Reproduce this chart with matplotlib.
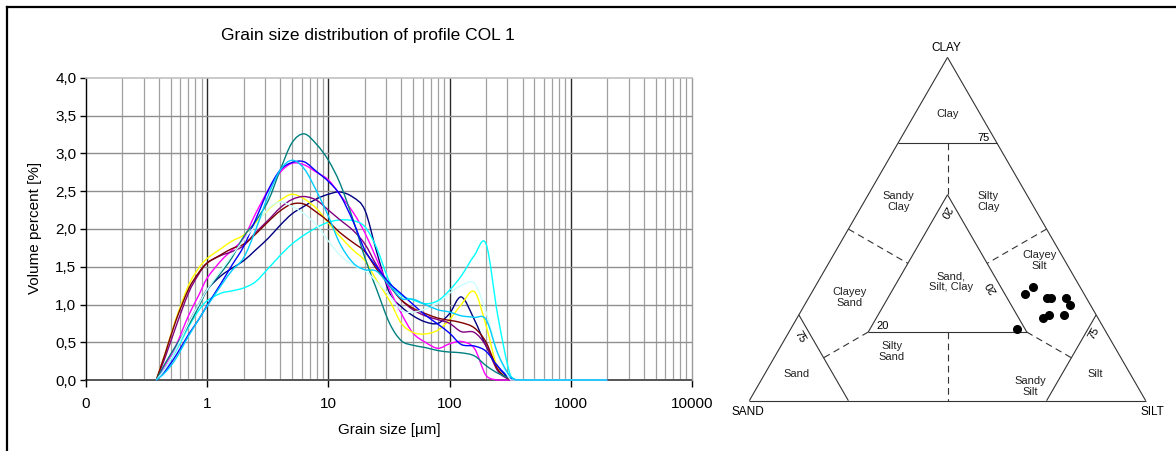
import numpy as np
import matplotlib
matplotlib.use('Agg')
import matplotlib.pyplot as plt
from matplotlib.lines import Line2D
from matplotlib.path import Path
from matplotlib.patches import PathPatch
from matplotlib.ticker import FixedLocator, FixedFormatter, NullFormatter

plt.rcParams['font.family'] = ['Liberation Sans', 'DejaVu Sans']

# ---------------- data ----------------
grain_size_um = [0.38, 0.45, 0.55, 0.7, 0.85, 1.0, 1.3, 1.6, 2.0, 2.5, 3.2, 4.0, 5.0, 6.3, 8.0,
                 10, 12.5, 16, 20, 25, 32, 40, 50, 63, 80, 100, 125, 160, 200, 250, 320, 400, 2000]

navy = [0, 0.15, 0.40, 0.75, 1.00, 1.20, 1.38, 1.48, 1.58, 1.72, 1.88, 2.05, 2.20, 2.30, 2.40,
        2.46, 2.49, 2.42, 2.25, 1.70, 1.15, 0.97, 0.85, 0.77, 0.75, 0.88, 1.10, 0.80, 0.45, 0.18, 0.01, 0, 0]
magenta = [0, 0.20, 0.45, 0.85, 1.12, 1.35, 1.58, 1.72, 1.88, 2.20, 2.52, 2.75, 2.87, 2.85, 2.75,
           2.65, 2.45, 2.22, 1.95, 1.60, 1.20, 0.88, 0.62, 0.50, 0.42, 0.48, 0.51, 0.42, 0.06, 0, 0, 0, 0]
yellow = [0, 0.35, 0.80, 1.25, 1.48, 1.61, 1.74, 1.84, 1.92, 2.08, 2.26, 2.38, 2.46, 2.40, 2.27,
          2.08, 1.90, 1.72, 1.58, 1.32, 1.05, 0.75, 0.63, 0.61, 0.66, 0.80, 1.00, 1.17, 0.72, 0.15, 0.01, 0, 0]
cyan = [0, 0.15, 0.38, 0.70, 0.92, 1.05, 1.15, 1.18, 1.22, 1.30, 1.48, 1.65, 1.80, 1.92, 2.02,
        2.09, 2.12, 2.11, 2.03, 1.75, 1.30, 1.12, 1.06, 1.01, 1.05, 1.19, 1.38, 1.65, 1.80, 0.85, 0.05, 0, 0]
purple = [0, 0.30, 0.70, 1.15, 1.40, 1.55, 1.65, 1.70, 1.78, 1.95, 2.12, 2.28, 2.39, 2.43, 2.38,
          2.25, 2.12, 1.98, 1.80, 1.52, 1.25, 1.06, 0.93, 0.85, 0.80, 0.75, 0.64, 0.63, 0.45, 0.12, 0, 0, 0]
darkred = [0, 0.35, 0.78, 1.20, 1.42, 1.55, 1.66, 1.74, 1.80, 1.93, 2.10, 2.24, 2.33, 2.33, 2.22,
           2.10, 1.95, 1.82, 1.70, 1.47, 1.25, 1.06, 0.95, 0.88, 0.82, 0.79, 0.76, 0.69, 0.50, 0.14, 0.01, 0, 0]
teal = [0, 0.22, 0.45, 0.72, 0.97, 1.19, 1.42, 1.62, 1.90, 2.10, 2.38, 2.78, 3.14, 3.26, 3.12,
        2.91, 2.60, 2.12, 1.62, 1.20, 0.75, 0.52, 0.46, 0.43, 0.39, 0.37, 0.36, 0.32, 0.19, 0.09, 0.02, 0, 0]
blue = [0, 0.12, 0.32, 0.60, 0.80, 0.99, 1.28, 1.52, 1.77, 2.12, 2.52, 2.78, 2.88, 2.89, 2.76,
        2.63, 2.45, 2.10, 1.72, 1.50, 1.28, 1.14, 1.00, 0.86, 0.74, 0.62, 0.47, 0.45, 0.38, 0.18, 0.02, 0, 0]
lightturq = [0, 0.15, 0.40, 0.75, 1.00, 1.20, 1.45, 1.65, 1.85, 2.05, 2.27, 2.36, 2.30, 2.20, 2.05,
             1.84, 1.65, 1.52, 1.45, 1.30, 1.12, 0.92, 0.90, 0.94, 1.02, 1.15, 1.25, 1.28, 0.90, 0.35, 0, 0, 0]
skyblue = [0, 0.10, 0.28, 0.58, 0.80, 0.98, 1.25, 1.45, 1.62, 1.98, 2.45, 2.78, 2.91, 2.80, 2.50,
           2.17, 1.80, 1.55, 1.46, 1.44, 1.25, 1.08, 1.07, 1.00, 0.93, 0.90, 0.85, 0.83, 0.80, 0.35, 0.04, 0, 0]

series = [navy, magenta, yellow, cyan, purple, darkred, teal, blue, lightturq, skyblue]
series_colors = ['#000080', '#FF00FF', '#FFFF00', '#00FFFF', '#800080', '#800000',
                 '#008080', '#0000FF', '#CCFFFF', '#00CCFF']

x_ticks = [0.1, 1, 10, 100, 1000, 10000]
x_tick_labels = ['0', '1', '10', '100', '1000', '10000']
y_ticks = [0.0, 0.5, 1.0, 1.5, 2.0, 2.5, 3.0, 3.5, 4.0]
y_tick_labels = ['0,0', '0,5', '1,0', '1,5', '2,0', '2,5', '3,0', '3,5', '4,0']

# ternary samples (percent)
sand_pct = [15, 12, 10, 9, 5, 5, 14, 12, 8, 22]
silt_pct = [54, 55, 60, 61, 65, 67, 62, 63, 67, 57]
clay_pct = [31, 33, 30, 30, 30, 28, 24, 25, 25, 21]

# ---------------- figure ----------------
W, H = 1176, 451
fig = plt.figure(figsize=(W / 100, H / 100), dpi=100)
fig.patch.set_facecolor('white')

# frame border (top and left)
fig.add_artist(Line2D([7 / W, 7 / W], [0, 1 - 7 / H], transform=fig.transFigure, color='black', lw=1.6))
fig.add_artist(Line2D([7 / W, 1], [1 - 7 / H, 1 - 7 / H], transform=fig.transFigure, color='black', lw=1.6))

# ---------------- left chart ----------------
ax = fig.add_axes([86 / W, (H - 380) / H, (692 - 86) / W, (380 - 78) / H])
ax.set_xscale('log')
ax.set_xlim(0.1, 10000)
ax.set_ylim(0, 4.0)

# grid
minor_pos = [m * 10.0 ** e for e in range(-1, 4) for m in range(2, 10)]
for xv in minor_pos:
    ax.axvline(xv, color='#a0a0a0', lw=0.9, zorder=0)
for xv in x_ticks[1:-1]:
    ax.axvline(xv, color='#2a2a2a', lw=1.0, zorder=0)
for yv in y_ticks[1:-1]:
    ax.axhline(yv, color='#8f8f8f', lw=1.0, zorder=0)


def smooth_path(xs, ys):
    """Excel-style smoothed line through the data points (cubic Bezier, log-x space)."""
    u = np.log10(np.asarray(xs, float))
    v = np.asarray(ys, float)
    n = len(u)
    verts = [(u[0], v[0])]
    codes = [Path.MOVETO]
    for i in range(n - 1):
        i0, i2, i3 = max(i - 1, 0), i + 1, min(i + 2, n - 1)
        c1u = u[i] + (u[i2] - u[i0]) / 6.0
        c1v = v[i] + (v[i2] - v[i0]) / 6.0
        c2u = u[i2] - (u[i3] - u[i]) / 6.0
        c2v = v[i2] - (v[i3] - v[i]) / 6.0
        c1u = min(max(c1u, u[i]), u[i2]); c2u = min(max(c2u, u[i]), u[i2])
        c1v = max(c1v, 0.0); c2v = max(c2v, 0.0)
        verts += [(c1u, c1v), (c2u, c2v), (u[i2], v[i2])]
        codes += [Path.CURVE4] * 3
    verts = [(10.0 ** a, b) for a, b in verts]
    return Path(verts, codes)


for ys, c in zip(series, series_colors):
    ax.add_patch(PathPatch(smooth_path(grain_size_um, ys), facecolor='none', edgecolor=c,
                           lw=1.0, zorder=3, clip_on=False))

ax.xaxis.set_major_locator(FixedLocator(x_ticks))
ax.xaxis.set_major_formatter(FixedFormatter(x_tick_labels))
ax.xaxis.set_minor_locator(FixedLocator(minor_pos))
ax.xaxis.set_minor_formatter(NullFormatter())
ax.set_yticks(y_ticks)
ax.set_yticklabels(y_tick_labels)
ax.tick_params(axis='x', which='major', direction='out', length=5, width=1, labelsize=11, pad=7, colors='black')
ax.tick_params(axis='x', which='minor', length=0)
ax.tick_params(axis='y', direction='out', length=4, width=1, labelsize=11, pad=3)

ax.spines['left'].set_color('black')
ax.spines['left'].set_linewidth(1.0)
ax.spines['bottom'].set_color('#555555')
ax.spines['bottom'].set_linewidth(1.4)
ax.spines['bottom'].set_zorder(2)
ax.spines['top'].set_color('#c0c0c0')
ax.spines['top'].set_linewidth(1.2)
ax.spines['right'].set_color('#9a9a9a')
ax.spines['right'].set_linewidth(1.0)

fig.text(368 / W, 1 - 35.5 / H, 'Grain size distribution of profile COL 1', ha='center', va='center', fontsize=12.5)
fig.text(389 / W, 1 - 430 / H, 'Grain size [µm]', ha='center', va='center', fontsize=11)
fig.text(35 / W, 1 - 228 / H, 'Volume percent [%]', ha='center', va='center', rotation=90, fontsize=11)

# ---------------- ternary diagram ----------------
scale = 396.4
x0px, y0px = 749.3, 400.7
axl, axr, axt, axb = 720, 1176, 30, 451
tx = fig.add_axes([axl / W, (H - axb) / H, (axr - axl) / W, (axb - axt) / H])
tx.set_xlim((axl - x0px) / scale, (axr - x0px) / scale)
tx.set_ylim((y0px - axb) / scale, (y0px - axt) / scale)
tx.axis('off')

S3 = np.sqrt(3) / 2


def tern(sand, silt, clay):
    tot = sand + silt + clay
    si, cl = silt / tot, clay / tot
    return si + cl / 2, cl * S3


def seg(a, b, dashed=False):
    (xa, ya), (xb, yb) = tern(*a), tern(*b)
    tx.plot([xa, xb], [ya, yb], color='#333333', lw=0.8,
            ls=(0, (6, 4)) if dashed else '-', solid_capstyle='butt')


# outer triangle
seg((100, 0, 0), (0, 100, 0)); seg((0, 100, 0), (0, 0, 100)); seg((0, 0, 100), (100, 0, 0))
# clay 75 line
seg((25, 0, 75), (0, 25, 75))
# sand 75 and silt 75 lines
seg((75, 25, 0), (75, 0, 25))
seg((25, 75, 0), (0, 75, 25))
# inner triangle
seg((60, 20, 20), (20, 60, 20)); seg((20, 60, 20), (20, 20, 60)); seg((20, 20, 60), (60, 20, 20))
# dashed boundaries
seg((12.5, 12.5, 75), (20, 20, 60), True)
seg((40, 40, 20), (50, 50, 0), True)
seg((50, 0, 50), (40, 20, 40), True)
seg((0, 50, 50), (20, 40, 40), True)
seg((60, 20, 20), (75, 12.5, 12.5), True)
seg((20, 60, 20), (12.5, 75, 12.5), True)

# sample points
for sa, si, cl in zip(sand_pct, silt_pct, clay_pct):
    px, py = tern(sa, si, cl)
    tx.plot(px, py, 'o', color='black', ms=5.5, zorder=5)

fs = 8.0
region_labels = [
    ('Clay', 0.5005, 0.7235), ('Sandy\nClay', 0.376, 0.502), ('Silty\nClay', 0.603, 0.502),
    ('Clayey\nSilt', 0.7316, 0.3532), ('Clayey\nSand', 0.2523, 0.2608),
    ('Sand,\nSilt, Clay', 0.508, 0.300), ('Silty\nSand', 0.359, 0.125),
    ('Sand', 0.118, 0.0666), ('Sandy\nSilt', 0.708, 0.0353), ('Silt', 0.872, 0.0666),
]
for t, xx, yy in region_labels:
    tx.text(xx, yy, t, ha='center', va='center', fontsize=fs, linespacing=1.15, color='#222222')

tx.text(0.496, 0.889, 'CLAY', ha='center', va='center', fontsize=8.5)
tx.text(-0.0025, -0.0277, 'SAND', ha='center', va='center', fontsize=8.5)
tx.text(1.0177, -0.0277, 'SILT', ha='center', va='center', fontsize=8.5)

tx.text(0.590, 0.6635, '75', ha='center', va='center', fontsize=fs)
tx.text(0.128, 0.1615, '75', ha='center', va='center', fontsize=fs, rotation=-60)
tx.text(0.868, 0.170, '75', ha='center', va='center', fontsize=fs, rotation=60)
tx.text(0.3355, 0.189, '20', ha='center', va='center', fontsize=fs)
tx.text(0.4937, 0.4768, '20', ha='center', va='center', fontsize=fs, rotation=-120)
tx.text(0.6115, 0.2876, '20', ha='center', va='center', fontsize=fs, rotation=120)

fig.savefig('out.png', dpi=100)
